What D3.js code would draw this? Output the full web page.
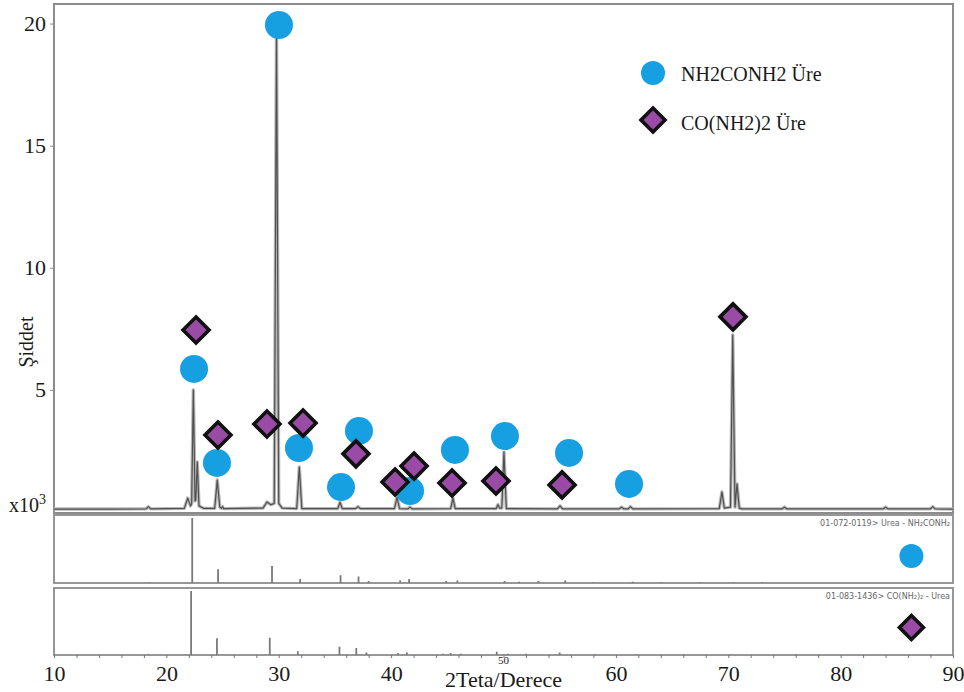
<!DOCTYPE html>
<html>
<head>
<meta charset="utf-8">
<script src="https://cdn.jsdelivr.net/npm/d3@7"></script>
<style>
  html, body { margin: 0; padding: 0; background: #fff; }
  svg { display: block; }
</style>
</head>
<body>
<svg id="chart" width="964" height="692"></svg>
<script>
// ---------------- data ----------------
// measured XRD pattern (2θ in degrees, intensity in x10^3 counts)
const patternX = [10, 15, 18.2, 18.4, 18.6, 21.6, 21.9, 22.15, 22.25, 22.4, 22.55, 22.62, 22.75, 22.9, 23.3, 24.3, 24.53, 24.75, 24.9, 25.0, 25.1, 28.6, 28.95, 29.3, 29.6, 29.8, 30.0, 30.3, 31.6, 31.83, 32.05, 35.25, 35.45, 35.65, 36.85, 37.05, 37.25, 40.3, 40.52, 40.75, 41.5, 41.68, 41.85, 45.3, 45.5, 45.7, 49.35, 49.5, 49.65, 49.85, 50.04, 50.25, 54.8, 55.03, 55.25, 60.3, 60.5, 60.7, 61.1, 61.3, 61.5, 69.2, 69.44, 69.65, 70.2, 70.4, 70.6, 70.78, 70.98, 71.2, 74.8, 75.0, 75.2, 83.8, 84.0, 84.2, 88.0, 88.2, 88.4, 90];
const patternY = [0.12, 0.12, 0.13, 0.22, 0.13, 0.15, 0.57, 0.25, 0.35, 5.0, 0.45, 0.5, 2.05, 0.25, 0.15, 0.15, 1.31, 0.2, 0.15, 0.22, 0.14, 0.16, 0.41, 0.3, 0.35, 19.74, 0.35, 0.16, 0.14, 1.84, 0.14, 0.14, 0.4, 0.14, 0.14, 0.22, 0.14, 0.14, 0.61, 0.14, 0.13, 0.2, 0.13, 0.14, 0.57, 0.14, 0.14, 0.3, 0.16, 0.16, 2.46, 0.14, 0.13, 0.25, 0.13, 0.13, 0.2, 0.13, 0.13, 0.22, 0.13, 0.14, 0.82, 0.16, 0.2, 7.25, 0.2, 1.15, 0.16, 0.13, 0.13, 0.2, 0.13, 0.13, 0.2, 0.13, 0.13, 0.22, 0.13, 0.12];

// phase markers (NH2CONH2 Üre = circles, CO(NH2)2 Üre = diamonds)
const circleX = [22.46, 24.50, 30.02, 31.80, 35.54, 37.14, 41.68, 45.68, 50.13, 55.83, 61.17];
const circleY = [5.86, 2.01, 19.94, 2.62, 1.02, 3.32, 0.86, 2.54, 3.11, 2.42, 1.15];
const diamondX = [22.64, 24.59, 28.95, 32.16, 36.87, 40.35, 42.04, 45.42, 49.33, 55.21, 70.42];
const diamondY = [7.45, 3.15, 3.60, 3.64, 2.38, 1.23, 1.88, 1.19, 1.27, 1.11, 7.99];

// reference stick patterns (relative intensity %)
const ref1Pos = [18.5, 22.3, 24.6, 29.4, 31.9, 35.5, 37.1, 38.0, 40.8, 41.6, 44.9, 45.9, 50.1, 51.4, 53.1, 55.5, 58.0, 61.5, 64.0, 67.5, 70.5, 73.0];
const ref1Int = [1, 100, 21, 26, 6, 12, 10, 3, 4, 6, 3, 4, 3, 2, 3, 4, 1, 2, 1, 1, 1, 1];
const ref2Pos = [18.4, 22.2, 24.5, 29.2, 31.7, 35.4, 36.9, 37.8, 40.6, 41.4, 44.6, 45.3, 46.2, 49.4, 50.4, 52.0, 55.0, 58.2, 61.8, 66.0, 70.2, 76.0];
const ref2Int = [1, 100, 26, 27, 6, 13, 11, 4, 3, 4, 2, 3, 2, 5, 2, 2, 4, 1, 1, 1, 1, 1];

const refLabels = ["01-072-0119> Urea - NH\u2082CONH\u2082", "01-083-1436> CO(NH\u2082)\u2082 - Urea"];
const legendLabels = ["NH2CONH2 Üre", "CO(NH2)2 Üre"];
const yTicks = [5, 10, 15, 20];
const xTicks = d3.range(10, 91, 2);
const xLabelTicks = [10, 20, 30, 40, 60, 70, 80, 90];

// ---------------- layout ----------------
const SERIF = '"Liberation Serif", "Times New Roman", serif';
const svg = d3.select("#chart");
const L = 54, R = 953;
const x = d3.scaleLinear().domain([10, 90]).range([L, R]);
const y = d3.scaleLinear().domain([0, 20.8]).range([512, 4]);
const p1 = { top: 515, bottom: 583 };
const p2 = { top: 588, bottom: 655 };
const y1 = d3.scaleLinear().domain([0, 100]).range([p1.bottom, p1.top + 3]);
const y2 = d3.scaleLinear().domain([0, 100]).range([p2.bottom, p2.top + 3]);

const blue = "#16A0E2", purple = "#9A4BA6", frame = "#8c8c8c";

function serifText(sel, size) {
  return sel.style("font-family", SERIF).style("font-size", size + "px").attr("fill", "#1a1a1a");
}

// frames
svg.append("rect").attr("x", L).attr("y", 4).attr("width", R - L).attr("height", 509)
  .attr("fill", "none").attr("stroke", frame).attr("stroke-width", 2);
[p1, p2].forEach(p => {
  svg.append("rect").attr("x", L).attr("y", p.top).attr("width", R - L).attr("height", p.bottom - p.top)
    .attr("fill", "none").attr("stroke", frame).attr("stroke-width", 1.8);
});

// y axis
const yAxis = svg.append("g").attr("transform", `translate(${L},0)`)
  .call(d3.axisLeft(y).tickValues(yTicks).tickSize(4).tickPadding(4));
yAxis.select(".domain").remove();
yAxis.selectAll(".tick line").attr("stroke", frame);
serifText(yAxis.selectAll(".tick text"), 22);

// x axis at bottom
const xAxis = svg.append("g").attr("transform", `translate(0,${p2.bottom})`)
  .call(d3.axisBottom(x).tickValues(xTicks).tickSize(3).tickPadding(7)
    .tickFormat(d => xLabelTicks.includes(d) ? d : ""));
xAxis.select(".domain").remove();
xAxis.selectAll(".tick line").attr("stroke", "#777");
serifText(xAxis.selectAll(".tick text"), 22);
serifText(svg.append("text"), 11).attr("x", x(50)).attr("y", 664)
  .attr("text-anchor", "middle").text("50");

// axis titles
serifText(svg.append("text"), 22).attr("x", x(50)).attr("y", 687)
  .attr("text-anchor", "middle").text("2Teta/Derece");
serifText(svg.append("text"), 20)
  .attr("transform", "translate(33,342) rotate(-90)")
  .attr("text-anchor", "middle").text("Şiddet");
const x10 = serifText(svg.append("text"), 20).attr("x", 9).attr("y", 512);
x10.append("tspan").text("x10");
x10.append("tspan").attr("dy", -8).style("font-size", "14px").text("3");

// pattern line
const line = d3.line().x(d => x(d[0])).y(d => y(d[1]));
const pts = d3.zip(patternX, patternY);
svg.append("path").datum(pts).attr("d", line).attr("fill", "none")
  .attr("stroke", "#b8b8b8").attr("stroke-width", 3.4).attr("stroke-linejoin", "round");
svg.append("path").datum(pts).attr("d", line).attr("fill", "none")
  .attr("stroke", "#505050").attr("stroke-width", 1.2).attr("stroke-linejoin", "round");

// reference sticks
function sticks(pos, inten, ys) {
  svg.append("g").selectAll("line").data(d3.zip(pos, inten)).join("line")
    .attr("x1", d => x(d[0])).attr("x2", d => x(d[0]))
    .attr("y1", ys(0)).attr("y2", d => ys(d[1]))
    .attr("stroke", "#7a7a7a").attr("stroke-width", 1.8);
}
sticks(ref1Pos, ref1Int, y1);
sticks(ref2Pos, ref2Int, y2);

svg.append("text").attr("x", R - 3).attr("y", p1.top + 11).attr("text-anchor", "end")
  .style("font-family", "DejaVu Sans, sans-serif").style("font-size", "8px").attr("fill", "#666").text(refLabels[0]);
svg.append("text").attr("x", R - 3).attr("y", p2.top + 11).attr("text-anchor", "end")
  .style("font-family", "DejaVu Sans, sans-serif").style("font-size", "8px").attr("fill", "#666").text(refLabels[1]);

// markers
const diamond = s => `M0,${-s}L${s},0L0,${s}L${-s},0Z`;
function drawCircle(cx, cy, r) {
  svg.append("circle").attr("cx", cx).attr("cy", cy).attr("r", r).attr("fill", blue);
}
function drawDiamond(cx, cy, s) {
  svg.append("path").attr("d", diamond(s)).attr("transform", `translate(${cx},${cy})`)
    .attr("fill", purple).attr("stroke", "#111").attr("stroke-width", 3.6);
}
svg.append("g").selectAll("circle").data(d3.zip(circleX, circleY)).join("circle")
  .attr("cx", d => x(d[0])).attr("cy", d => y(d[1])).attr("r", 14).attr("fill", blue);
svg.append("g").selectAll("path").data(d3.zip(diamondX, diamondY)).join("path")
  .attr("d", diamond(13)).attr("transform", d => `translate(${x(d[0])},${y(d[1])})`)
  .attr("fill", purple).attr("stroke", "#111").attr("stroke-width", 3.6);

// markers in reference panels
drawCircle(x(86.3), (p1.top + p1.bottom) / 2 + 7, 12);
drawDiamond(x(86.3), (p2.top + p2.bottom) / 2 + 6, 12);

// legend
drawCircle(653, 73, 12);
drawDiamond(653, 120, 12);
serifText(svg.append("text"), 20).attr("x", 681).attr("y", 81).text(legendLabels[0]);
serifText(svg.append("text"), 20).attr("x", 681).attr("y", 130).text(legendLabels[1]);
</script>
</body>
</html>
